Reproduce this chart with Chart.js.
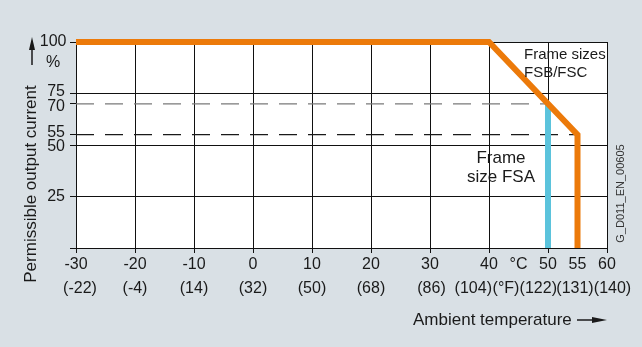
<!DOCTYPE html>
<html><head><meta charset="utf-8">
<script src="https://cdn.jsdelivr.net/npm/chart.js@4/dist/chart.umd.min.js"></script>
<style>html,body{margin:0;padding:0;background:#d9e0e5;overflow:hidden}canvas{display:block}</style>
</head><body>
<canvas id="c" width="642" height="347"></canvas>
<script>
// ---- data ----
const celsiusTicks = [-30, -20, -10, 0, 10, 20, 30, 40, 50, 55, 60];
const celsiusLabels = ['-30', '-20', '-10', '0', '10', '20', '30', '40', '50', '55', '60'];
const fahrenheitLabels = ['(-22)', '(-4)', '(14)', '(32)', '(50)', '(68)', '(86)', '(104)', '(122)', '(131)', '(140)'];
const unitTick = 45;
const unitLabelC = '°C';
const unitLabelF = '(°F)';
const currentTicks = [0, 25, 50, 55, 70, 75, 100];
const currentLabels = ['', '25', '50', '55', '70', '75', '100'];
const fsbFscTemp = [-30, 40, 55, 55];
const fsbFscCurrent = [100, 100, 55, 0];
const fsaTemp = [50, 50];
const fsaCurrent = [70, 0];
const ref70Temp = [-30, 50];
const ref70Current = [70, 70];
const ref55Temp = [-30, 55];
const ref55Current = [55, 55];

const toXY = (xs, ys) => xs.map((x, i) => ({x, y: ys[i]}));

// ---- layout / style ----
const FONT = '"Liberation Sans", Arial, Helvetica, sans-serif';
const TEXT = '#1a1a1a';
const BG = '#d9e0e5';
const fNudge = [4, 0, 0, 0, 0, 0, 1.5, -15.7, -9.7, -2.5, 5.5];
const fUnitNudge = -12.5;
const yLabelNudge = [0, 0, 2, -2, 3, -2, 0];
const yLabelDx = [0, 0, 0, 0, 0, 0, 1.5];
const xGridVals = [-20, -10, 0, 10, 20, 30, 40, 50, 60];
const yGridVals = [25, 50, 75, 100];

const decor = {
  id: 'decor',
  beforeDraw(chart) {
    const {ctx, chartArea: a} = chart;
    ctx.save();
    ctx.fillStyle = BG;
    ctx.fillRect(0, 0, chart.width, chart.height);
    ctx.fillStyle = '#ffffff';
    ctx.fillRect(a.left, a.top, a.right - a.left, a.bottom - a.top);
    ctx.restore();
  },
  afterDraw(chart) {
    const {ctx} = chart;
    const xs = chart.scales.x;
    const ys = chart.scales.y;
    ctx.save();
    ctx.fillStyle = TEXT;
    ctx.strokeStyle = TEXT;
    ctx.textBaseline = 'middle';
    // y tick labels (slightly spread where ticks are close together)
    ctx.font = '16px ' + FONT;
    ctx.textAlign = 'right';
    currentTicks.forEach((v, i) => {
      ctx.fillText(currentLabels[i], ys.left + ys.width - 11 + yLabelDx[i], ys.getPixelForValue(v) + yLabelNudge[i]);
    });
    // Fahrenheit row
    ctx.textAlign = 'center';
    celsiusTicks.forEach((c, i) => {
      ctx.fillText(fahrenheitLabels[i], xs.getPixelForValue(c) + fNudge[i], 289);
    });
    ctx.fillText(unitLabelF, xs.getPixelForValue(unitTick) + fUnitNudge, 289);
    // y title
    ctx.save();
    ctx.translate(31, 184);
    ctx.rotate(-Math.PI / 2);
    ctx.font = '17px ' + FONT;
    ctx.fillText('Permissible output current', 0, 0);
    ctx.restore();
    // up arrow + %
    ctx.lineWidth = 1.5;
    ctx.beginPath(); ctx.moveTo(32, 65); ctx.lineTo(32, 48); ctx.stroke();
    ctx.beginPath(); ctx.moveTo(32, 37); ctx.lineTo(35, 50); ctx.lineTo(29, 50); ctx.closePath(); ctx.fill();
    ctx.font = '16px ' + FONT;
    ctx.fillText('%', 53, 63);
    // x title + arrow
    ctx.font = '17px ' + FONT;
    ctx.textAlign = 'left';
    ctx.fillText('Ambient temperature', 413, 320);
    ctx.beginPath(); ctx.moveTo(577, 320); ctx.lineTo(594, 320); ctx.stroke();
    ctx.beginPath(); ctx.moveTo(607, 320); ctx.lineTo(592, 317); ctx.lineTo(592, 323); ctx.closePath(); ctx.fill();
    // series labels
    ctx.font = '15px ' + FONT;
    ctx.fillText('Frame sizes', 524, 55);
    ctx.fillText('FSB/FSC', 524, 73);
    ctx.font = '17px ' + FONT;
    ctx.textAlign = 'center';
    ctx.fillText('Frame', 501, 158);
    ctx.fillText('size FSA', 501, 177);
    // figure code
    ctx.save();
    ctx.translate(621, 193.5);
    ctx.rotate(-Math.PI / 2);
    ctx.font = '11px ' + FONT;
    ctx.fillStyle = '#333';
    ctx.fillText('G_D011_EN_00605', 0, 0);
    ctx.restore();
    ctx.restore();
  }
};

new Chart(document.getElementById('c'), {
  type: 'line',
  data: {
    datasets: [
      {label: 'FSB/FSC', data: toXY(fsbFscTemp, fsbFscCurrent), borderColor: '#EC7A0A', borderWidth: 6,
       pointRadius: 0, clip: false, borderJoinStyle: 'miter', borderCapStyle: 'butt', tension: 0, order: 0},
      {label: 'FSA', data: toXY(fsaTemp, fsaCurrent), borderColor: '#5BC3DC', borderWidth: 6,
       pointRadius: 0, clip: false, borderCapStyle: 'butt', tension: 0, order: 1},
      {label: '70 %', data: toXY(ref70Temp, ref70Current), borderColor: '#7a7a7a', borderWidth: 1.3,
       borderDash: [18, 11], pointRadius: 0, tension: 0, order: 2},
      {label: '55 %', data: toXY(ref55Temp, ref55Current), borderColor: '#1a1a1a', borderWidth: 1.3,
       borderDash: [18, 11], pointRadius: 0, tension: 0, order: 3}
    ]
  },
  options: {
    responsive: false,
    animation: false,
    devicePixelRatio: 1,
    layout: {padding: {left: 0, top: 42, right: 35, bottom: 0}},
    plugins: {legend: {display: false}, tooltip: {enabled: false}},
    scales: {
      x: {
        type: 'linear', min: -30, max: 60, position: 'bottom',
        afterBuildTicks: s => { s.ticks = [...celsiusTicks, unitTick].sort((a, b) => a - b).map(v => ({value: v})); },
        afterFit: s => { s.height = 99; },
        ticks: {
          autoSkip: false, maxRotation: 0, minRotation: 0, padding: 2, color: TEXT,
          font: {family: FONT, size: 16},
          callback: v => v === unitTick ? unitLabelC : celsiusLabels[celsiusTicks.indexOf(v)]
        },
        grid: {
          color: c => (c.tick && xGridVals.includes(c.tick.value)) ? '#111' : 'rgba(0,0,0,0)',
          tickColor: c => (c.tick && (xGridVals.includes(c.tick.value) || c.tick.value === -30)) ? '#111' : 'rgba(0,0,0,0)',
          tickLength: 5, lineWidth: 1
        },
        border: {color: '#111', width: 1}
      },
      y: {
        type: 'linear', min: 0, max: 100,
        afterBuildTicks: s => { s.ticks = currentTicks.map(v => ({value: v})); },
        afterFit: s => { s.width = 76; },
        ticks: {
          display: false, autoSkip: false,
          callback: v => currentLabels[currentTicks.indexOf(v)]
        },
        grid: {
          color: c => (c.tick && yGridVals.includes(c.tick.value)) ? '#111' : 'rgba(0,0,0,0)',
          tickColor: '#111', tickLength: 6, lineWidth: 1
        },
        border: {color: '#111', width: 1}
      }
    }
  },
  plugins: [decor]
});
</script>
</body></html>
